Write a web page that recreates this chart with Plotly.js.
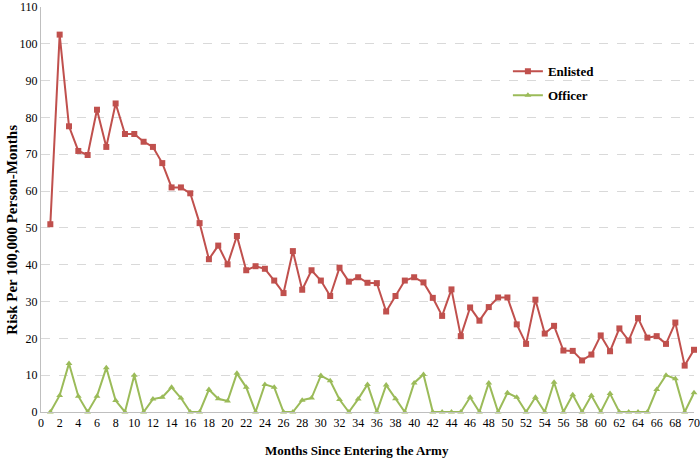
<!DOCTYPE html>
<html>
<head>
<meta charset="utf-8">
<script src="https://cdn.plot.ly/plotly-3.0.1.min.js"></script>
<style>
html,body{margin:0;padding:0;background:#fff;}
#chart{width:700px;height:458px;}
</style>
</head>
<body>
<div id="chart"></div>
<script>
const months = [];
for (let m = 1; m <= 70; m++) months.push(m);

const enlisted = [
  51.0, 102.5, 77.6, 70.9, 69.8, 82.1, 72.0, 83.8, 75.5, 75.5,
  73.4, 72.0, 67.6, 61.0, 61.0, 59.4, 51.3, 41.5, 45.2, 40.1,
  47.8, 38.5, 39.6, 38.9, 35.7, 32.3, 43.7, 33.2, 38.5, 35.7,
  31.5, 39.2, 35.4, 36.6, 35.1, 35.0, 27.3, 31.5, 35.7, 36.6,
  35.2, 31.0, 26.1, 33.3, 20.6, 28.4, 24.8, 28.5, 31.1, 31.1,
  23.8, 18.5, 30.5, 21.3, 23.4, 16.7, 16.6, 14.0, 15.6, 20.8,
  16.5, 22.7, 19.4, 25.5, 20.2, 20.6, 18.5, 24.3, 12.6, 16.9
];

const officer = [
  0, 4.5, 13.2, 4.3, 0, 4.3, 12.0, 3.1, 0, 10.0,
  0, 3.5, 4.0, 6.7, 3.8, 0, 0, 6.1, 3.6, 3.0,
  10.5, 6.7, 0, 7.5, 6.7, 0, 0, 3.2, 3.8, 9.9,
  8.5, 3.4, 0, 3.5, 7.5, 0, 7.3, 3.6, 0, 7.9,
  10.2, 0, 0, 0, 0, 4.0, 0, 7.9, 0, 5.2,
  4.0, 0, 4.0, 0, 8.1, 0, 4.7, 0, 4.5, 0,
  5.0, 0, 0, 0, 0, 6.1, 10.0, 9.0, 0, 5.2
];

const xTicks = [];
for (let t = 0; t <= 70; t += 2) xTicks.push(t);
const yTicks = [0,10,20,30,40,50,60,70,80,90,100,110];

const xTitle = "Months Since Entering the Army";
const yTitle = "Risk Per 100,000 Person-Months";

const serif = "Liberation Serif, Times New Roman, serif";

const traces = [
  {
    x: months, y: enlisted, name: "Enlisted", type: "scatter", mode: "lines+markers",
    line: {color: "#c0504d", width: 2},
    marker: {symbol: "square", size: 6, color: "#c0504d"},
    legendgroup: "a", cliponaxis: false
  },
  {
    x: months, y: officer, name: "Officer", type: "scatter", mode: "lines+markers",
    line: {color: "#9bbb59", width: 2},
    marker: {symbol: "triangle-up", size: 6, color: "#9bbb59"},
    legendgroup: "b", cliponaxis: false
  }
];

const layout = {
  width: 700, height: 458,
  margin: {l: 41, r: 6, t: 7, b: 46},
  paper_bgcolor: "#fff", plot_bgcolor: "#fff",
  font: {family: serif, color: "#000", size: 12},
  showlegend: true,
  legend: {
    x: 0.715, y: 0.878, xanchor: "left", yanchor: "top",
    font: {family: serif, size: 13, color: "#000", weight: "bold"},
    bgcolor: "rgba(0,0,0,0)", traceorder: "grouped", tracegroupgap: 4,
    itemwidth: 30
  },
  xaxis: {
    range: [0, 70], tickvals: xTicks, ticktext: xTicks.map(String),
    showgrid: false, zeroline: false,
    showline: true, linecolor: "#bfbfbf", linewidth: 1,
    ticks: "", tickfont: {family: serif, size: 12, color: "#000"},
    ticklabeloverflow: "allow"
  },
  yaxis: {
    range: [0, 110], tickvals: yTicks,
    showgrid: true, gridcolor: "#d9d9d9", griddash: "dash", gridwidth: 1,
    zeroline: false,
    showline: true, linecolor: "#bfbfbf", linewidth: 1,
    ticks: "", tickfont: {family: serif, size: 12, color: "#000"},
    ticklabeloverflow: "allow"
  },
  annotations: [
    {
      text: "<b>" + xTitle + "</b>", xref: "paper", yref: "paper",
      x: 0.484, y: -0.094, xanchor: "center", yanchor: "middle",
      showarrow: false, font: {family: serif, size: 13, color: "#000"}
    },
    {
      text: "<b>" + yTitle + "</b>", xref: "paper", yref: "paper",
      x: -0.0445, y: 0.45, xanchor: "center", yanchor: "middle", textangle: -90,
      showarrow: false, font: {family: serif, size: 15, color: "#000"}
    }
  ]
};

Plotly.newPlot("chart", traces, layout, {displayModeBar: false, staticPlot: true});
</script>
</body>
</html>
